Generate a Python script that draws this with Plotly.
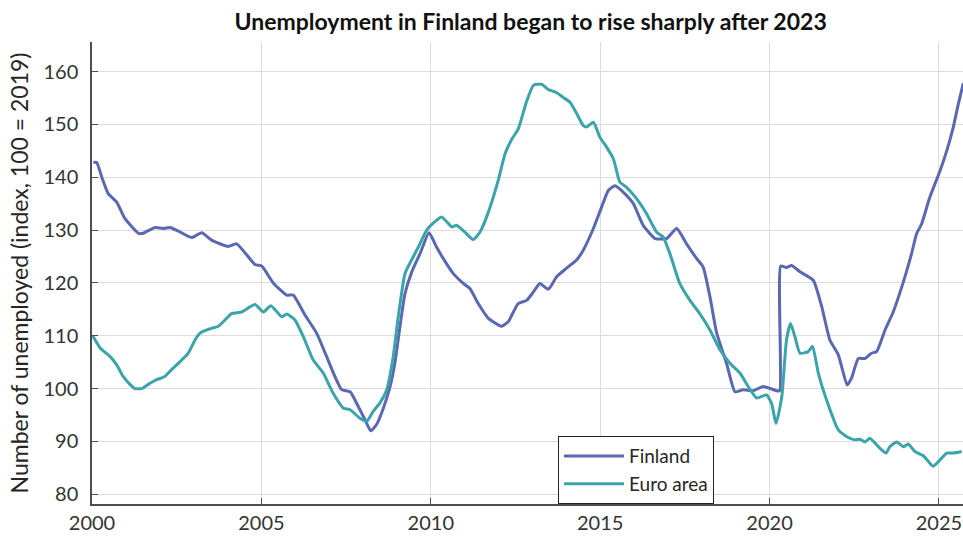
import plotly.graph_objects as go

title_text = "Unemployment in Finland began to rise sharply after 2023"
y_title = "Number of unemployed (index, 100 = 2019)"

fin_years = [2000.04, 2000.14, 2000.29, 2000.48, 2000.73, 2000.97, 2001.37, 2001.51, 2001.86, 2002.10,
             2002.30, 2002.55, 2002.94, 2003.24, 2003.53, 2004.02, 2004.27, 2004.81, 2005.01, 2005.35,
             2005.75, 2005.94, 2006.29, 2006.63, 2006.93, 2007.17, 2007.37, 2007.62, 2007.86, 2008.06,
             2008.23, 2008.40, 2008.60, 2008.80, 2008.94, 2009.09, 2009.24, 2009.44, 2009.68, 2009.95,
             2010.17, 2010.37, 2010.66, 2010.96, 2011.16, 2011.40, 2011.70, 2012.09, 2012.29, 2012.58,
             2012.83, 2013.03, 2013.22, 2013.47, 2013.72, 2014.01, 2014.31, 2014.50, 2014.80, 2015.04,
             2015.24, 2015.44, 2015.68, 2015.98, 2016.27, 2016.62, 2016.96, 2017.26, 2017.55, 2017.85,
             2018.04, 2018.24, 2018.44, 2018.73, 2018.98, 2019.22, 2019.52, 2019.81, 2020.21, 2020.30,
             2020.33, 2020.50, 2020.65, 2020.90, 2021.29, 2021.54, 2021.78, 2022.03, 2022.29, 2022.42,
             2022.62, 2022.82, 2023.01, 2023.16, 2023.41, 2023.65, 2023.95, 2024.19, 2024.34, 2024.49,
             2024.73, 2025.03, 2025.23, 2025.42, 2025.57, 2025.72]
fin_values = [142.8, 142.8, 140.0, 136.9, 135.3, 132.2, 129.4, 129.4, 130.5, 130.3,
              130.5, 129.8, 128.6, 129.5, 128.1, 126.9, 127.4, 123.5, 123.2, 120.0,
              117.7, 117.7, 113.9, 110.5, 106.0, 102.3, 99.8, 99.4, 96.6, 94.1,
              92.0, 93.2, 96.3, 100.4, 104.8, 111.7, 118.0, 122.1, 125.5, 129.5,
              126.8, 124.6, 121.8, 119.9, 118.9, 116.1, 113.3, 111.8, 112.7, 116.1,
              116.7, 118.3, 119.9, 118.8, 121.2, 122.8, 124.4, 126.2, 130.3, 134.3,
              137.5, 138.4, 137.2, 135.0, 130.9, 128.4, 128.4, 130.3, 127.4, 124.6,
              123.0, 117.4, 110.5, 104.8, 99.4, 99.8, 99.6, 100.4, 99.6, 99.6,
              123.2, 122.9, 123.3, 122.1, 120.5, 115.5, 109.2, 106.4, 100.7, 102.0,
              105.7, 105.7, 106.7, 107.0, 111.1, 114.5, 120.2, 125.5, 129.3, 131.2,
              136.2, 141.2, 145.0, 149.4, 153.8, 157.8]

euro_years = [2000.02, 2000.24, 2000.53, 2000.73, 2000.92, 2001.12, 2001.27, 2001.47, 2001.66, 2001.91,
              2002.15, 2002.35, 2002.60, 2002.84, 2003.04, 2003.19, 2003.39, 2003.58, 2003.73, 2003.88,
              2004.12, 2004.42, 2004.81, 2005.06, 2005.28, 2005.60, 2005.75, 2005.99, 2006.24, 2006.53,
              2006.83, 2007.12, 2007.42, 2007.62, 2007.91, 2008.11, 2008.30, 2008.50, 2008.70, 2008.89,
              2009.04, 2009.24, 2009.48, 2009.68, 2009.88, 2010.07, 2010.32, 2010.62, 2010.76, 2011.01,
              2011.25, 2011.45, 2011.70, 2011.99, 2012.19, 2012.39, 2012.58, 2012.83, 2013.03, 2013.27,
              2013.47, 2013.72, 2013.91, 2014.11, 2014.31, 2014.50, 2014.60, 2014.80, 2014.99, 2015.19,
              2015.39, 2015.58, 2015.78, 2016.08, 2016.37, 2016.67, 2016.86, 2017.06, 2017.35, 2017.65,
              2017.94, 2018.24, 2018.54, 2018.83, 2019.13, 2019.37, 2019.62, 2019.91, 2020.06, 2020.19,
              2020.36, 2020.50, 2020.62, 2020.75, 2020.90, 2021.14, 2021.27, 2021.44, 2021.68, 2022.03,
              2022.28, 2022.52, 2022.67, 2022.82, 2022.96, 2023.21, 2023.44, 2023.55, 2023.75, 2023.95,
              2024.09, 2024.29, 2024.54, 2024.83, 2025.03, 2025.23, 2025.42, 2025.67]
euro_values = [110.0, 107.7, 106.1, 104.5, 102.3, 100.8, 100.0, 100.0, 100.8, 101.7,
               102.3, 103.6, 105.1, 106.7, 109.2, 110.5, 111.1, 111.5, 111.8, 112.7,
               114.2, 114.5, 115.9, 114.5, 115.7, 113.6, 114.1, 113.0, 109.8, 105.4,
               102.9, 99.1, 96.3, 96.0, 94.4, 93.8, 95.7, 97.3, 99.8, 106.0,
               113.6, 121.8, 124.9, 127.4, 130.0, 131.3, 132.5, 130.6, 130.9, 129.6,
               128.2, 129.6, 133.4, 139.4, 144.4, 147.2, 149.1, 154.4, 157.4, 157.6,
               156.6, 156.0, 155.1, 154.2, 152.0, 149.8, 149.5, 150.4, 147.6, 145.7,
               143.5, 139.1, 138.1, 135.9, 133.1, 129.6, 128.7, 125.5, 119.9, 116.7,
               114.2, 111.1, 107.3, 104.8, 102.9, 100.4, 98.2, 98.8, 97.2, 93.4,
               98.4, 109.2, 112.3, 109.8, 106.7, 107.0, 108.0, 102.9, 97.9, 92.2,
               90.9, 90.3, 90.4, 89.9, 90.6, 89.0, 87.8, 89.0, 89.9, 89.0,
               89.5, 88.1, 87.3, 85.3, 86.5, 87.8, 87.8, 88.1]

x_ticks = [2000, 2005, 2010, 2015, 2020, 2025]
y_ticks = [80, 90, 100, 110, 120, 130, 140, 150, 160]

FIN_COLOR = "#5a68b2"
EURO_COLOR = "#3ba4aa"

fig = go.Figure()
fig.add_trace(go.Scatter(x=fin_years, y=fin_values, mode="lines", name="Finland",
                         line=dict(color=FIN_COLOR, width=3, shape="spline", smoothing=0.5)))
fig.add_trace(go.Scatter(x=euro_years, y=euro_values, mode="lines", name="Euro area",
                         line=dict(color=EURO_COLOR, width=3, shape="spline", smoothing=0.5)))

fig.update_layout(
    width=963, height=541,
    margin=dict(l=92, r=0, t=42, b=37),
    paper_bgcolor="white", plot_bgcolor="white",
    font=dict(family="Lato, 'Noto Sans', sans-serif", color="#262626", size=20),
    title=dict(text="<b>" + title_text + "</b>", x=0.551, xanchor="center",
               y=0.9593, yanchor="middle", automargin=False,
               font=dict(family="Lato, 'Noto Sans', sans-serif", size=23, color="#111111")),
    showlegend=True,
    legend=dict(x=0.535, y=0.147, xanchor="left", yanchor="top",
                bgcolor="white", bordercolor="#222222", borderwidth=1,
                font=dict(size=19, color="#262626"), tracegroupgap=0,
                itemwidth=60),
    xaxis=dict(range=[2000, 2025.71], tickvals=x_ticks, ticktext=[str(v) for v in x_ticks],
               automargin=False,
               showgrid=True, gridcolor="#dcdcdc", gridwidth=1,
               showline=True, linecolor="#4d4d4d", linewidth=1.5,
               ticks="inside", ticklen=6, tickcolor="#4d4d4d",
               zeroline=False, tickfont=dict(size=20, color="#333333")),
    yaxis=dict(range=[78.16, 165.6], tickvals=y_ticks, ticktext=[str(v) for v in y_ticks],
               automargin=False, ticklabelstandoff=8,
               showgrid=True, gridcolor="#dcdcdc", gridwidth=1,
               showline=True, linecolor="#4d4d4d", linewidth=1.5,
               ticks="inside", ticklen=6, tickcolor="#4d4d4d",
               zeroline=False, tickfont=dict(size=20, color="#333333"),
               title=dict(text=y_title, font=dict(size=23, color="#262626"), standoff=8)),
)

fig.write_html(
    "out.html",
    config={"displayModeBar": False},
    post_script="document.body.style.margin='0';document.body.style.overflow='hidden';"
                "document.documentElement.style.overflow='hidden';",
)
